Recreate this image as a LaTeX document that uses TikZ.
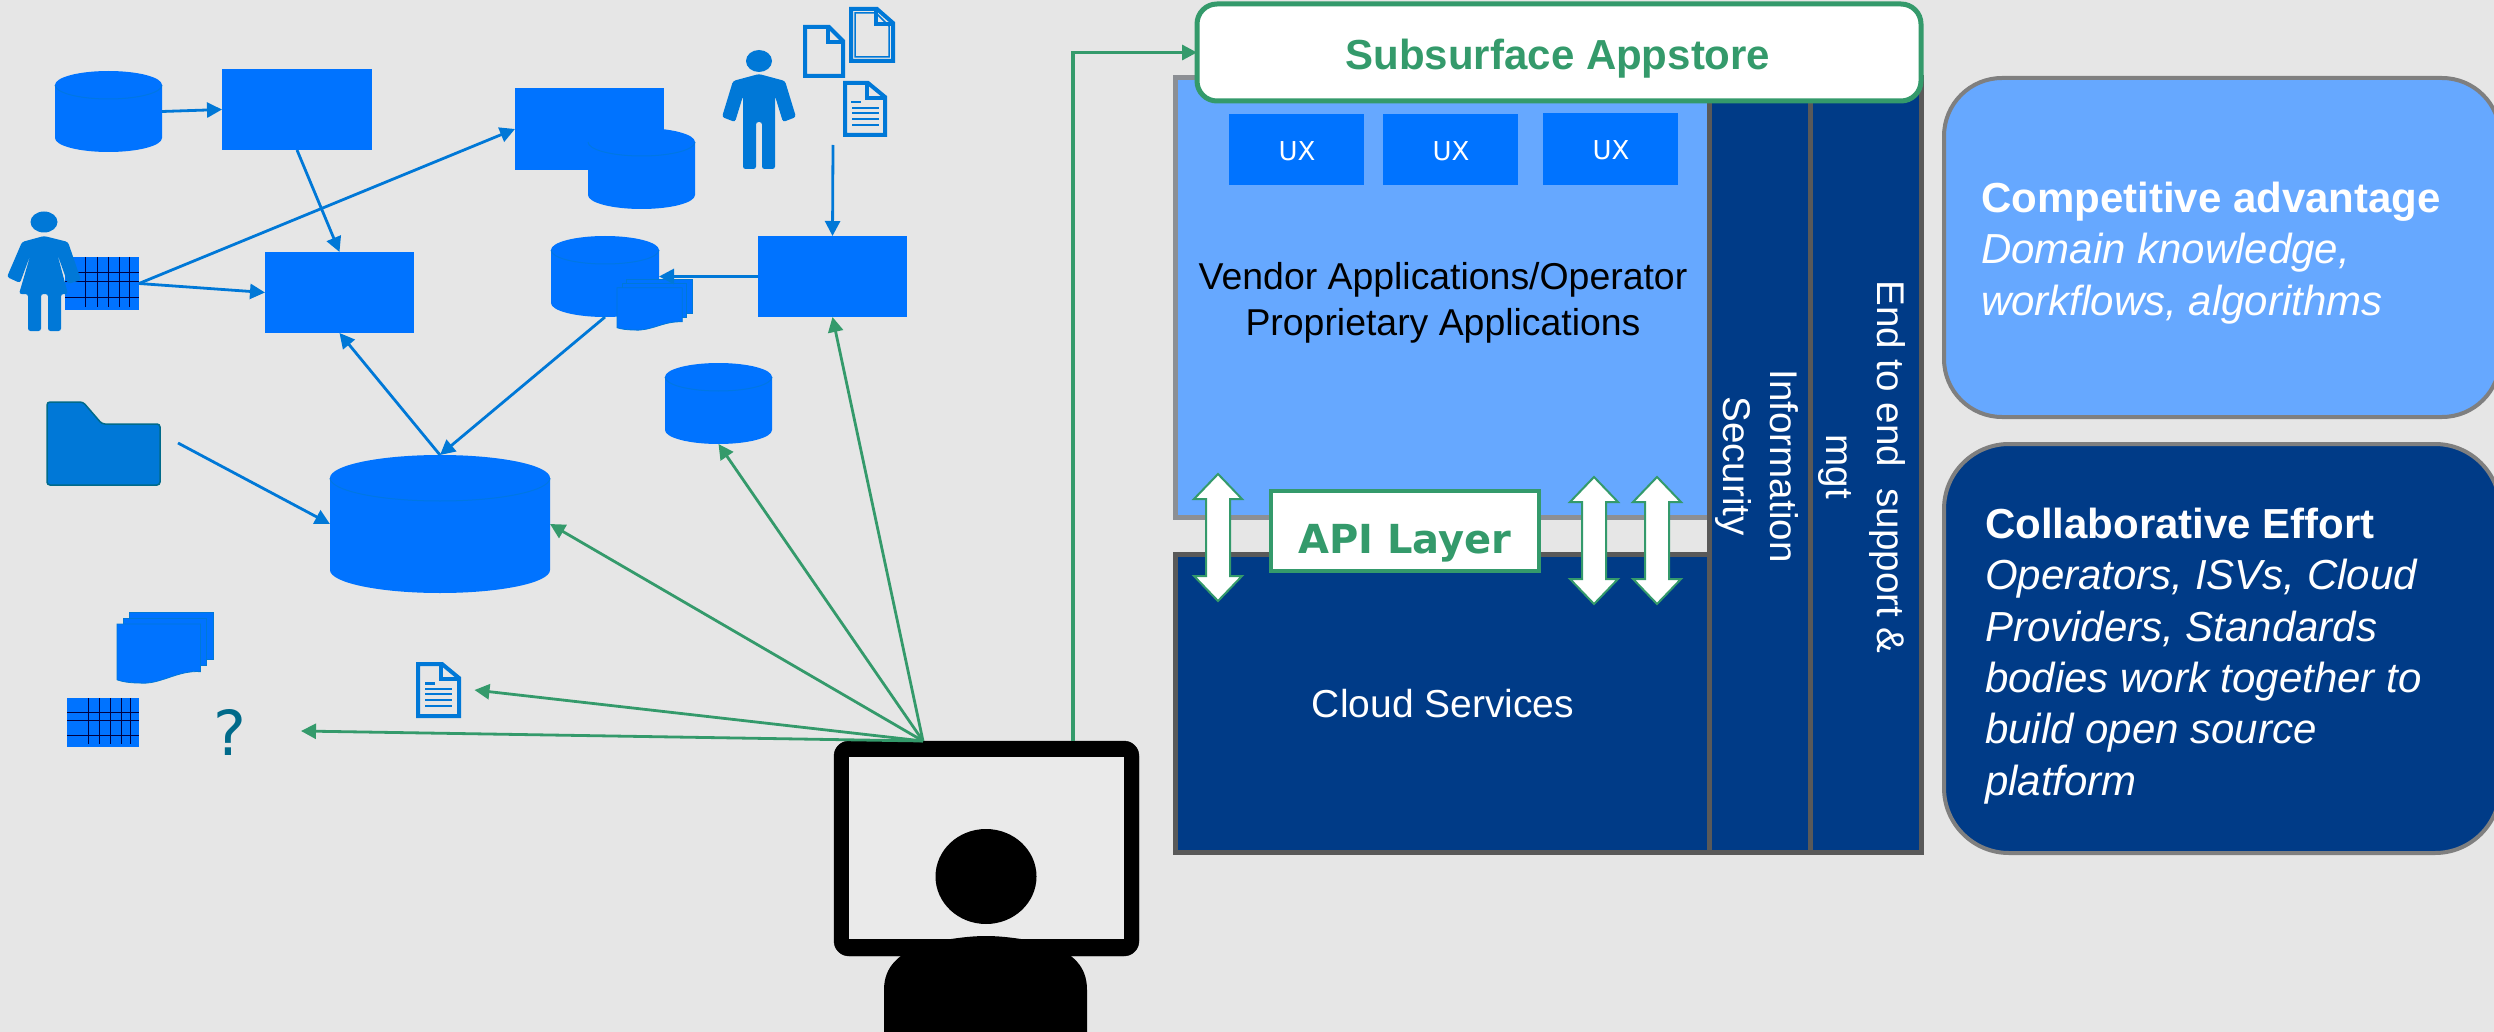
\documentclass[tikz,border=0pt]{standalone}
\usepackage{fontspec}
\setmainfont{Liberation Sans}
\newfontfamily\dejavu{DejaVu Sans}
\usetikzlibrary{arrows.meta}
\definecolor{bgc}{HTML}{E6E6E6}
\definecolor{bblue}{HTML}{0073FF}
\definecolor{lblue}{HTML}{66A8FF}
\definecolor{navy}{HTML}{003B87}
\definecolor{gline}{HTML}{349A6B}
\definecolor{bline}{HTML}{0078D7}
\definecolor{gborder}{HTML}{595959}
\definecolor{lborder}{HTML}{8C8F94}
\definecolor{pborder}{HTML}{7F7F7F}
\definecolor{teal}{HTML}{006A8A}
\newcommand\fsz[2]{\fontsize{#1}{#2}\selectfont}
\newcommand\bx[7]{\node[plain,#6,minimum width={(#4-#2)*1pt},minimum height={(#5-#3)*1pt}] (#1) at ({(#2+#4)/2},{(#3+#5)/2}) {#7};}
\newcommand\cyl[6]{%
  \bx{#1}{#2}{#3}{#4}{#5}{}{}
  \fill[bblue] (#2,#3+#6) arc[start angle=180,end angle=0,x radius={(#4-#2)/2*1pt},y radius=#6 pt]
    -- (#4,#5-#6) arc[start angle=0,end angle=-180,x radius={(#4-#2)/2*1pt},y radius=#6 pt] -- cycle;
  \draw[bline!70!bblue,line width=1pt] (#2,#3+#6) arc[start angle=180,end angle=360,x radius={(#4-#2)/2*1pt},y radius=#6 pt];
}
% name x1 y1 x2 y2 foldx foldy (fold sizes)
\newcommand\docicon[7]{%
  \bx{#1}{#2}{#3}{#4}{#5}{}{}
  \draw[bline,line width=4pt,line join=miter] (#2+2,#3+2) -- (#4-#6-1,#3+2) -- (#4-2,#3+#7) -- (#4-2,#5-2) -- (#2+2,#5-2) -- cycle;
  \draw[bline,line width=4pt] (#4-#6-2,#3+2) -- (#4-#6-2,#3+#7+1) -- (#4-2,#3+#7+1);
}
\newcommand\gridicon[7]{%
  \bx{#1}{#2}{#3}{#4}{#5}{fill=bblue}{}
  \foreach \vv in {#6} \draw[black!75!blue,line width=.9pt] (\vv,#3) -- (\vv,#5-3);
  \foreach \hh in {#7} \draw[black!75!blue,line width=.9pt] (#2,\hh) -- (#4,\hh);
}
\newcommand\stackicon[5]{%
  \bx{#1}{#2}{#3}{#4}{#5}{}{}
  \pgfmathsetlengthmacro\stw{(#4-#2)*1pt}
  \pgfmathsetlengthmacro\sth{(#5-#3)*1pt}
  \begin{scope}[shift={(#2,#3)},x=\stw,y=-\sth,fill=bblue,draw=bline,line width=.8pt]
    \filldraw (.13,0) rectangle (1,.67);
    \filldraw (.07,.085) rectangle (.93,.755);
    \filldraw (0,.17) -- (.87,.17) -- (.87,.84) .. controls (.62,.82) and (.45,1.03) .. (.23,1) .. controls (.13,1) and (.05,.98) .. (0,.955) -- cycle;
  \end{scope}
}
% name, x, y top, y bottom
\newcommand\dbl[4]{%
  \bx{#1}{#2-25}{#3}{#2+25}{#4}{}{}
  \filldraw[fill=white,draw=gline,line width=2pt,line join=miter] (#2,#3) -- (#2+24,#3+25) -- (#2+12,#3+25) -- (#2+12,#4-25) -- (#2+24,#4-25) -- (#2,#4) -- (#2-24,#4-25) -- (#2-12,#4-25) -- (#2-12,#3+25) -- (#2-24,#3+25) -- cycle;
}
\tikzset{
  plain/.style={inner sep=0pt,outer sep=0pt},
  blueline/.style={draw=bline,line width=2.8pt,-{Triangle[length=15pt,width=15pt]}},
  greenline/.style={draw=gline,line width=2.8pt,-{Triangle[length=15pt,width=15pt]}},
  layer/.style={draw=gborder,line width=5pt,fill=navy},
  wtext/.style={text=white,inner sep=0pt,outer sep=0pt},
  btext/.style={text=black,inner sep=0pt,outer sep=0pt},
  gtext/.style={text=gline,inner sep=0pt,outer sep=0pt},
}
\begin{document}
\begin{tikzpicture}[x=1pt,y=-1pt]
\clip (0,0) rectangle (2494,1032);
\fill[bgc] (0,0) rectangle (2494,1032);

% ---- left: tangled landscape
\cyl{cylA}{55}{71}{162}{152}{14}
\bx{boxA}{222}{69}{372}{150}{fill=bblue}{}
\bx{boxB}{515}{88}{664}{170}{fill=bblue}{}
\cyl{cylB}{588}{128}{695}{209}{14}
\bx{boxC}{265}{252}{414}{333}{fill=bblue}{}
\bx{boxD}{758}{236}{907}{317}{fill=bblue}{}
\cyl{cylC}{551}{236}{659}{317}{14}
\stackicon{stackA}{617}{279}{692}{330}
\cyl{cylD}{665}{363}{772}{444}{14}
\cyl{cylE}{330}{455}{550}{593}{23}

% man
\fill[bline] (759,61) ellipse[x radius=13pt,y radius=11pt];
\fill[bline,rounded corners=2.5pt] (759,74) -- (785,81) -- (796,117) -- (783,122) -- (775,96) -- (775,169) -- (762,169) -- (762,122) -- (756,122) -- (756,169) -- (743,169) -- (743,96) -- (735,122) -- (722,117) -- (733,81) -- cycle;
% docs
\docicon{docA}{803}{25}{845}{78}{15}{16}
\docicon{docB}{849}{7}{895}{63}{17}{16}
\draw[bline,line width=1.5pt] (855,13) -- (876,13) -- (889,26) -- (889,57) -- (855,57) -- cycle;
\docicon{docC}{843}{81}{887}{137}{18}{16}
\foreach \yy in {108,113,119,125} \draw[bline,line width=2.5pt] (852,\yy) -- (879,\yy);
\draw[bline,line width=2.5pt] (851,102) -- (861,102);

% table + woman
\gridicon{gridA}{65}{257}{139}{310}{85,97,108,119,129}{272,281,297}
\fill[bline] (44,222) ellipse[x radius=13.5pt,y radius=10.5pt];
\fill[bline,rounded corners=2.5pt] (44,236) -- (68,242) -- (81,280) -- (68,284) -- (57,253) -- (68,294) -- (61,294) -- (61,331) -- (48,331) -- (48,294) -- (41,294) -- (41,331) -- (28,331) -- (28,294) -- (19,294) -- (31,253) -- (20,283) -- (7,277) -- (22,242) -- cycle;

% folder
\node[plain,minimum width=115pt,minimum height=85pt] (folder) at (103.5,443.5) {};
\filldraw[fill=bline,draw=teal,line width=1.5pt,rounded corners=3pt] (47,402) -- (83,402) -- (102,424) -- (160,424) -- (160,485) -- (47,485) -- cycle;

% lower-left items
\stackicon{stackB}{117}{612}{213}{683}
\gridicon{gridB}{67}{698}{139}{747}{88,99,110,121,130.5}{712,720.5,735}
\node[text=teal,plain,anchor=base,font=\dejavu\fsz{62}{70}] (qmark) at (230,755) {?};
\docicon{docD}{416}{662}{461}{718}{18}{16}
\foreach \yy in {689,694,700,706} \draw[bline,line width=2.5pt] (425,\yy) -- (452,\yy);
\draw[bline,line width=2.5pt] (425,683.5) -- (435,683.5);

% monitor
\node[plain,draw=black,fill=black,rounded corners=15pt,minimum width=305pt,minimum height=215pt] (mon) at (986.5,848.5) {};
\node[plain,fill=bgc!85!white,minimum width=275pt,minimum height=182pt] (screen) at (986.5,848) {};
\fill[black] (986,876.5) ellipse[x radius=50.5pt,y radius=47.5pt];
\fill[black] (884,1032) -- (884,990) .. controls (884,965) and (900,955) .. (920,944) .. controls (945,940) and (965,936) .. (986,936) .. controls (1007,936) and (1027,940) .. (1052,944) .. controls (1072,955) and (1087,965) .. (1087,990) -- (1087,1032) -- cycle;

% free ends of connectors
\coordinate (docsOut) at (833,145);
\coordinate (folderOut) at (178,443);
\coordinate (fan) at (923,741);
\coordinate (monTop) at (1073,741);
\coordinate (docDIn) at (474.5,690);
\coordinate (qIn) at (301,731);

% connectors: blue
\draw[blueline] (cylA.east) -- (boxA.west);
\draw[blueline] (boxA.south) -- (boxC.north);
\draw[blueline] (gridA.east) -- (boxB.west);
\draw[blueline] (gridA.east) -- (boxC.west);
\draw[blueline] (docsOut) -- (boxD.north);
\draw[blueline] (boxD.west) -- (cylC.east);
\draw[blueline] (cylE.north) -- (boxC.south);
\draw[blueline] (cylC.south) -- (cylE.north);
\draw[blueline] (folderOut) -- (cylE.west);
% connectors: green
\draw[greenline] (fan) -- (boxD.south);
\draw[greenline] (fan) -- (cylD.south);
\draw[greenline] (fan) -- (cylE.east);
\draw[greenline] (fan) -- (docDIn);
\draw[greenline] (fan) -- (qIn);

% ---- platform stack
\bx{apps}{1175}{78}{1709}{517}{fill=lblue,draw=lborder,line width=5pt}{}
\bx{cloud}{1175}{554}{1709}{852}{layer}{}
\bx{infosec}{1709}{78}{1810}{852}{layer}{}
\bx{support}{1810}{78}{1921}{852}{layer}{}
\bx{uxA}{1229}{114}{1364}{185}{fill=bblue}{}
\bx{uxB}{1383}{114}{1518}{185}{fill=bblue}{}
\bx{uxC}{1543}{113}{1678}{185}{fill=bblue}{}
\node[wtext,anchor=base,font=\dejavu\fsz{26}{30}] (uxtA) at (1297,161) {UX};
\node[wtext,anchor=base,font=\dejavu\fsz{26}{30}] (uxtB) at (1451,161) {UX};
\node[wtext,anchor=base,font=\dejavu\fsz{26}{30}] (uxtC) at (1611,160) {UX};
\node[btext,align=center,font=\fsz{37.4}{46}] (appsT) at (1443,303) {Vendor Applications/Operator\\Proprietary Applications};
\node[wtext,anchor=base,font=\fsz{39}{46}] (cloudT) at (1443,717.5) {Cloud Services};
\node[wtext,rotate=-90,align=center,font=\fsz{38.6}{47}] (infoT) at (1757,466) {Information\\Security};
\node[wtext,rotate=-90,align=center,font=\fsz{38.6}{51}] (supT) at (1862,467) {End to end\ \ support \&\\mgt};

\dbl{dblA}{1218}{474}{601}
\dbl{dblB}{1594}{477}{604}
\dbl{dblC}{1657}{477}{604}

\bx{api}{1271}{491}{1539}{571}{fill=white,draw=gline,line width=4pt}{}
\node[gtext,anchor=base,font=\dejavu\bfseries\fsz{40}{46}] (apiT) at (1405,553) {API Layer};

\node[plain,draw=gline,fill=white,line width=5pt,rounded corners=20pt,minimum width=724pt,minimum height=97pt] (store) at (1559,52.5) {};
\node[gtext,anchor=base,font=\bfseries\fsz{42}{50}] (storeT) at (1558,70) {Subsurface Appstore};
\draw[draw=gline,line width=3.2pt,-{Triangle[length=15pt,width=15pt]}] (monTop) |- (store.west);

% ---- right panels
\node[plain,fill=lblue,draw=pborder,line width=4pt,rounded corners=58pt,minimum width=556pt,minimum height=339pt] (panelA) at (2222,247.5) {};
\node[wtext,align=left,anchor=west,font=\fsz{42}{51.4}] (panelAT) at (1981,253) {{\bfseries Competitive advantage}\\\itshape Domain knowledge,\\\itshape workflows, algorithms};
\node[plain,fill=navy,draw=pborder,line width=4pt,rounded corners=65pt,minimum width=556pt,minimum height=409pt] (panelB) at (2222,648.5) {};
\node[wtext,align=left,anchor=west,font=\fsz{42}{51.4}] (panelBT) at (1985,656) {{\bfseries Collaborative Effort}\\\itshape Operators, ISVs, Cloud\\\itshape Providers, Standards\\\itshape bodies work together to\\\itshape build open source\\\itshape platform};
\end{tikzpicture}
\end{document}
